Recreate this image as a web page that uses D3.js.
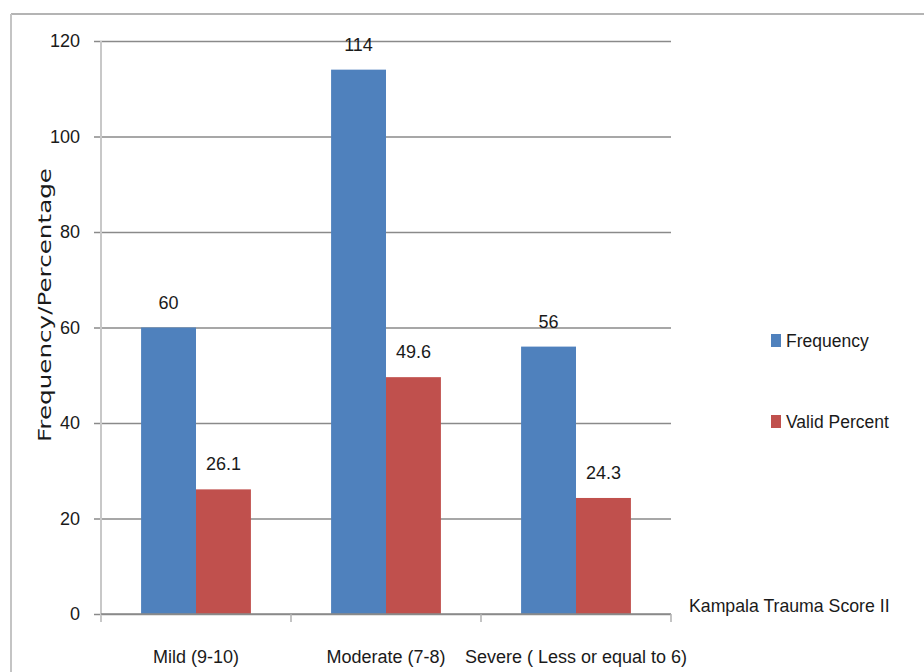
<!DOCTYPE html>
<html>
<head>
<meta charset="utf-8">
<script src="https://cdn.jsdelivr.net/npm/d3@7"></script>
<style>
  html, body { margin: 0; padding: 0; background: #fff; }
  svg { display: block; }
  text { font-family: "Liberation Sans", Arial, sans-serif; fill: #1a1a1a; }
</style>
</head>
<body>
<svg id="chart" width="924" height="672"></svg>
<script>
const categories = ["Mild (9-10)", "Moderate (7-8)", "Severe ( Less or equal to 6)"];
const seriesNames = ["Frequency", "Valid Percent"];
const frequency = [60, 114, 56];
const validPercent = [26.1, 49.6, 24.3];
const yTicks = [0, 20, 40, 60, 80, 100, 120];
const colors = ["#4F81BD", "#C0504D"];

const svg = d3.select("#chart");
const FONT = '"Liberation Sans", Arial, sans-serif';

// outer frame
svg.append("line").attr("x1", 11).attr("x2", 924).attr("y1", 14).attr("y2", 14)
  .attr("stroke", "#b4b4b4").attr("stroke-width", 2);
svg.append("line").attr("x1", 11).attr("x2", 11).attr("y1", 14).attr("y2", 672)
  .attr("stroke", "#c4c4c4").attr("stroke-width", 2);

const pLeft = 101, pRight = 671, pTop = 41, pBottom = 614;
const y = d3.scaleLinear().domain([0, 120]).range([pBottom, pTop]);
const x0 = d3.scaleBand().domain(categories).range([pLeft, pRight]).padding(0);
const x1 = d3.scaleBand().domain(seriesNames).range([0, x0.bandwidth()]).paddingInner(0).paddingOuter(0.73);

// gridlines + y axis
const yAxis = d3.axisLeft(y).tickValues(yTicks).tickSize(-(pRight - pLeft)).tickSizeOuter(0).tickPadding(21);
const gy = svg.append("g").attr("transform", `translate(${pLeft},0)`).call(yAxis);
gy.select(".domain").remove();
gy.selectAll(".tick line").attr("stroke", "#8a8a8a").attr("stroke-width", 1.3).attr("x1", -7);
gy.selectAll(".tick text").attr("font-size", 18).attr("fill", "#1a1a1a").style("font-family", FONT);
// y axis line
svg.append("line").attr("x1", pLeft).attr("x2", pLeft).attr("y1", pTop).attr("y2", pBottom + 8)
  .attr("stroke", "#c8c8c8").attr("stroke-width", 2);

// bars
const data = categories.map((c, i) => ({ cat: c, vals: [frequency[i], validPercent[i]] }));
const groups = svg.append("g").selectAll("g").data(data).join("g")
  .attr("transform", d => `translate(${x0(d.cat)},0)`);
groups.selectAll("rect").data(d => d.vals.map((v, j) => ({ s: seriesNames[j], v, j })))
  .join("rect")
  .attr("x", d => x1(d.s)).attr("width", x1.bandwidth())
  .attr("y", d => y(d.v)).attr("height", d => y(0) - y(d.v))
  .attr("fill", d => colors[d.j]);
groups.selectAll("text.lbl").data(d => d.vals.map((v, j) => ({ s: seriesNames[j], v, j })))
  .join("text").attr("class", "lbl")
  .attr("x", d => x1(d.s) + x1.bandwidth() / 2)
  .attr("y", d => y(d.v) - 19)
  .attr("text-anchor", "middle").attr("font-size", 18)
  .text(d => d.v);

// x axis baseline and category ticks
svg.append("line").attr("x1", pLeft).attr("x2", pRight).attr("y1", pBottom).attr("y2", pBottom)
  .attr("stroke", "#8a8a8a").attr("stroke-width", 1.5);
const xAxis = d3.axisBottom(x0).tickSize(0).tickPadding(0);
const gx = svg.append("g").attr("transform", `translate(0,${pBottom})`).call(xAxis);
gx.select(".domain").remove();
gx.selectAll(".tick text").attr("font-size", 18).attr("fill", "#1a1a1a").attr("y", 49).attr("dy", 0)
  .style("font-family", FONT);
const bounds = categories.map(c => x0(c)).concat([x0(categories[categories.length - 1]) + x0.bandwidth()]);
svg.append("g").selectAll("line").data(bounds.slice(1)).join("line")
  .attr("x1", d => d).attr("x2", d => d).attr("y1", pBottom).attr("y2", pBottom + 8)
  .attr("stroke", "#b0b0b0").attr("stroke-width", 1.5);

// axis titles
svg.append("text").attr("transform", "translate(51,305) rotate(-90)")
  .attr("text-anchor", "middle").attr("font-size", 17)
  .style("font-family", '"DejaVu Sans", Verdana, sans-serif')
  .attr("textLength", 274).attr("lengthAdjust", "spacingAndGlyphs")
  .text("Frequency/Percentage");
svg.append("text").attr("x", 689).attr("y", 612).attr("font-size", 17.7)
  .text("Kampala Trauma Score II");

// legend
const legend = svg.append("g").selectAll("g").data(seriesNames).join("g")
  .attr("transform", (d, i) => `translate(771,${334 + i * 81})`);
legend.append("rect").attr("width", 10).attr("height", 13).attr("fill", (d, i) => colors[i]);
legend.append("text").attr("x", 15).attr("y", 13).attr("font-size", 17.5).text(d => d);
</script>
</body>
</html>
